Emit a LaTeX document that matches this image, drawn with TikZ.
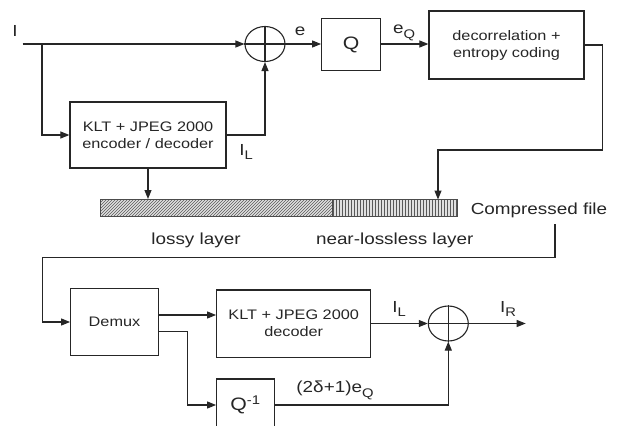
\documentclass[tikz,border=0pt]{standalone}
\usepackage{fontspec}
\setmainfont{Liberation Sans}[FakeStretch=1.18]
\usetikzlibrary{arrows.meta,patterns,shapes.geometric}
\newcommand{\mysub}[1]{\raisebox{-0.3em}{\fontsize{12.5}{14}\selectfont #1}}
\begin{document}
\begin{tikzpicture}[x=1pt,y=-1pt,
  line width=1.1pt, draw=black!85,
  box/.style={draw=black!85, line width=1.2pt, inner sep=0pt, font=\fontsize{13.8}{17}\selectfont, align=center, text=black!85},
  sumnode/.style={draw=black!85, ellipse, minimum width=40pt, minimum height=35pt, inner sep=0pt, line width=1.1pt},
  lbl/.style={font=\fontsize{16}{19}\selectfont, inner sep=0pt, text=black!85},
  arr/.style={-{Triangle[length=9pt,width=7pt]}},
  barpart/.style={draw=black!70, line width=1pt, inner sep=0pt, minimum height=17pt, preaction={fill=black!12}, pattern color=black!65},
]
\useasboundingbox (0,0) rectangle (619,426);
\clip (0,0) rectangle (619,426);
\fill[white] (0,0) rectangle (619,426);

% encoder part
\node[lbl] (lI) at (15,31) {I};
\coordinate (in) at (22.7,44);
\coordinate (br) at (42,44);
\node[sumnode] (s1) at (265,44) {};
\draw (s1.north) -- (s1.south) (s1.west) -- (s1.east);
\draw[arr] (in) -- (s1.west);
\node[box, minimum width=156pt, minimum height=66pt] (enc) at (148,135) {KLT + JPEG 2000\\encoder / decoder};
\draw[arr] (br) |- (enc.west);
\draw[arr] (enc.east) -| (s1.south);
\node[lbl] (lIL) at (246,152) {I\mysub{L}};
\node[box, minimum width=59pt, minimum height=52pt, font=\fontsize{18}{20}\selectfont] (q) at (351.2,44.8) {Q};
\draw[arr] (s1.east) -- (s1.east -| q.west);
\node[lbl] (le) at (300,31) {e};
\node[box, minimum width=155pt, minimum height=68pt] (dec) at (506.5,45) {decorrelation +\\entropy coding};
\draw[arr] (q.east |- s1.east) -- (s1.east -| dec.west);
\node[lbl] (leq) at (404,33) {e\mysub{Q}};

% compressed file bar
\node[barpart, minimum width=232.3pt, pattern=north east lines] (lossy) at (216.15,208) {};
\node[barpart, minimum width=125.4pt, pattern=vertical lines] (nl) at (395,208) {};
\node[lbl] (cf) at (539,210.7) {Compressed file};
\node[lbl] (ll) at (196,240.7) {lossy layer};
\node[lbl] (nll) at (394.7,240.7) {near-lossless layer};
\draw[arr] (enc.south) -- (enc.south |- lossy.north);
\coordinate (r1) at (602.7,150);
\coordinate (r2) at (438,199.5);
\draw[arr] (dec.east) -| (r1) -| (r2);

% decoder part
\node[box, minimum width=87.6pt, minimum height=67.4pt] (demux) at (114.5,322) {Demux};
\coordinate (r3) at (555,224);
\coordinate (r4) at (42.3,257.3);
\draw[arr] (r3) |- (r4) |- (demux.west);
\node[box, minimum width=154pt, minimum height=67.3pt] (kd) at (293.7,323.7) {KLT + JPEG 2000\\decoder};
\coordinate (d1) at ([yshift=7pt]demux.east);
\draw[arr] (d1) -- (d1 -| kd.west);
\node[box, minimum width=57.6pt, minimum height=52pt, font=\fontsize{18}{20}\selectfont] (qi) at (245.5,405) {Q\textsuperscript{-1}};
\coordinate (d2) at ([yshift=-9.7pt]demux.east);
\coordinate (d3) at (187.7,405);
\draw[arr] (d2) -| (d3) -- (qi.west);
\node[sumnode] (s2) at (448.3,323.5) {};
\draw (s2.north) -- (s2.south) (s2.west) -- (s2.east);
\draw[arr] (kd.east |- s2.west) -- (s2.west);
\coordinate (out) at (525.7,323.5);
\draw[arr] (s2.east) -- (out);
\draw[arr] (qi.east) -| (s2.south);
\node[lbl] (lIL2) at (399,309) {I\mysub{L}};
\node[lbl] (lIR) at (508,309) {I\mysub{R}};
\node[lbl] (lde) at (335,390) {(2δ+1)e\mysub{Q}};
\end{tikzpicture}
\end{document}
